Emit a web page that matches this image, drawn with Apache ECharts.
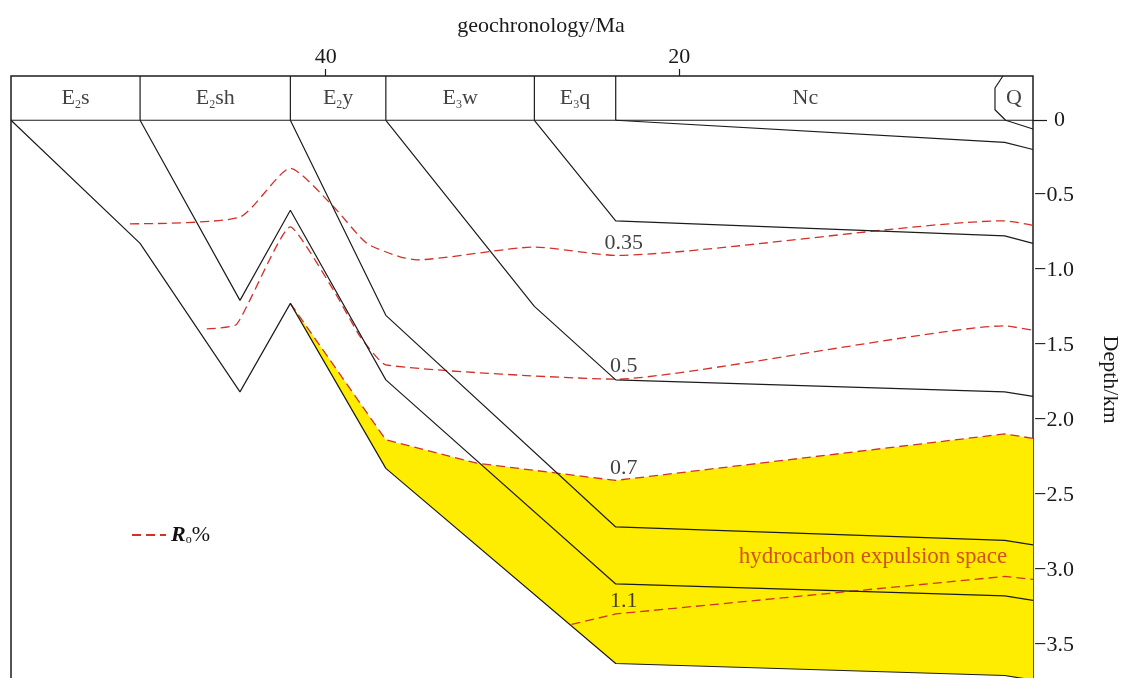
<!DOCTYPE html>
<html>
<head>
<meta charset="utf-8">
<script src="https://cdn.jsdelivr.net/npm/echarts@6/dist/echarts.min.js"></script>
<style>
  html, body { margin: 0; padding: 0; background: #ffffff; }
  #chart { width: 1122px; height: 678px; }
</style>
</head>
<body>
<div id="chart"></div>
<script>
// ---- stratigraphic stages shown in the header strip (ages in Ma) ----
const stageNames  = ['E2s', 'E2sh', 'E2y', 'E3w', 'E3q', 'Nc', 'Q'];
const stageBounds = [57.8, 50.5, 42.0, 36.6, 28.2, 23.6, 2.15, 0];

// ---- axis ticks ----
const ageTicks   = [40, 20];
const depthTicks = [0, -0.5, -1.0, -1.5, -2.0, -2.5, -3.0, -3.5];

// ---- burial paths of horizon bases: [age Ma, depth km] ----
const burialE2s  = [[57.8, 0], [50.5, -0.82], [44.85, -1.81], [42.0, -1.22], [36.6, -2.32], [23.6, -3.62], [1.6, -3.70], [0, -3.73]];
const burialE2sh = [[50.5, 0], [44.85, -1.20], [42.0, -0.60], [36.6, -1.73], [23.6, -3.09], [1.6, -3.17], [0, -3.20]];
const burialE2y  = [[42.0, 0], [36.6, -1.30], [23.6, -2.71], [1.6, -2.80], [0, -2.83]];
const burialE3w  = [[36.6, 0], [28.2, -1.24], [23.6, -1.73], [1.6, -1.81], [0, -1.84]];
const burialE3q  = [[28.2, 0], [23.6, -0.67], [1.6, -0.77], [0, -0.82]];
const burialNc   = [[23.6, 0], [1.6, -0.147], [0, -0.195]];
const burialQ    = [[1.70, 0.295], [2.15, 0.215], [2.15, 0.07], [1.55, 0], [0, -0.058]];

// ---- vitrinite reflectance (Ro %) isolines ----
const roLevels = [0.35, 0.5, 0.7, 1.1];
const ro035 = [[51.07, -0.69], [44.85, -0.645], [42.0, -0.32], [39.57, -0.575], [37.68, -0.82], [35.8, -0.91], [34.85, -0.93], [28.2, -0.845], [23.6, -0.90], [1.6, -0.67], [0, -0.70]];
const ro05  = [[46.73, -1.39], [45.04, -1.36], [42.0, -0.71], [39.57, -1.13], [38.06, -1.44], [36.6, -1.63], [23.6, -1.725], [1.6, -1.37], [0, -1.40]];
const ro07  = [[42.0, -1.22], [36.6, -2.13], [31.46, -2.285], [23.6, -2.40], [1.6, -2.09], [0, -2.12]];
const ro11  = [[26.1, -3.36], [23.6, -3.29], [1.6, -3.04], [0, -3.06]];

const HEADER_TOP = 0.295;   // top of the stage strip, in depth-axis units
const LABEL_AGE  = 23.6;    // isoline labels sit at the Neogene base

const FONT = '"Liberation Serif", "Times New Roman", serif';
const INK  = '#1c1c1c';
const RED  = '#d3302a';

const chart = echarts.init(document.getElementById('chart'), null, { renderer: 'canvas' });

function blackLine(data) {
  return {
    type: 'line', data, symbol: 'none', silent: true, animation: false, z: 4,
    lineStyle: { color: INK, width: 1.2 }
  };
}

function roLine(data, smooth) {
  return {
    type: 'line', name: 'Ro%', data, symbol: 'none', silent: true, animation: false,
    smooth, z: 3,
    itemStyle: { color: RED },
    lineStyle: { color: RED, width: 1.3, type: [9, 5] }
  };
}

// label positions taken from each isoline at the Neogene base
const roSets = [ro035, ro05, ro07, ro11];
const roLabelData = roSets.map((set, i) => {
  const p = set.find(q => q[0] === LABEL_AGE);
  return { value: [p[0], p[1]], name: String(roLevels[i]) };
});

// stage label anchors: middle of each stage, middle of header strip
const stageLabelData = stageNames.map((n, i) => ({
  value: [(stageBounds[i] + stageBounds[i + 1]) / 2, HEADER_TOP / 2],
  name: n
}));

// yellow zone: between Ro 0.7 isoline and the deepest horizon
const fillUpper = ro07;
const fillLower = burialE2s.filter(p => p[0] <= 42.0).slice().reverse();

const separators = [];
for (let i = 1; i <= 5; i++) {
  separators.push(blackLine([[stageBounds[i], 0], [stageBounds[i], HEADER_TOP]]));
}

function stageRich(name) {
  const m = name.match(/^([A-Z])(\d)(.*)$/);
  if (m) return '{n|' + m[1] + '}{s|' + m[2] + '}{n|' + m[3] + '}';
  return '{n|' + name + '}';
}

const option = {
  backgroundColor: '#ffffff',
  animation: false,
  textStyle: { fontFamily: FONT },
  grid: {
    left: 11, right: 89, top: 76, bottom: -5,
    outerBoundsMode: 'none', containLabel: false,
    show: true, borderColor: INK, borderWidth: 1.5, backgroundColor: 'transparent'
  },
  legend: {
    data: ['Ro%'],
    left: 126, top: 519,
    itemWidth: 34, itemHeight: 14, itemGap: 4,
    selectedMode: false,
    itemStyle: { opacity: 0 },
    formatter: () => '{r|R}{o|o}{p|%}',
    textStyle: {
      rich: {
        r: { fontFamily: FONT, fontSize: 22, fontStyle: 'italic', fontWeight: 'bold', color: '#111' },
        o: { fontFamily: FONT, fontSize: 12, color: '#111', verticalAlign: 'bottom' },
        p: { fontFamily: FONT, fontSize: 22, color: '#111' }
      }
    }
  },
  xAxis: {
    type: 'value', position: 'top', inverse: true, min: 0, max: 57.8,
    name: 'geochronology/Ma', nameLocation: 'middle', nameGap: 39,
    nameTextStyle: { fontFamily: FONT, fontSize: 22, color: '#1a1a1a', padding: [0, 0, 0, 38] },
    axisLine: { show: false, onZero: false },
    splitLine: { show: false },
    axisTick: { show: true, inside: false, length: 7, customValues: ageTicks, lineStyle: { color: INK, width: 1.2 } },
    axisLabel: { customValues: ageTicks, fontFamily: FONT, fontSize: 22, color: '#1a1a1a', margin: 8 }
  },
  yAxis: {
    type: 'value', position: 'right', min: -3.75, max: HEADER_TOP,
    name: 'Depth/km', nameLocation: 'middle', nameRotate: -90, nameGap: 66,
    nameTextStyle: { fontFamily: FONT, fontSize: 22, color: '#1a1a1a' },
    axisLine: { show: false, onZero: false },
    splitLine: { show: false },
    axisTick: { show: true, inside: false, length: 14, customValues: [0], lineStyle: { color: INK, width: 1.2 } },
    axisLabel: {
      customValues: depthTicks, margin: 1, fontFamily: FONT, fontSize: 22, color: '#1a1a1a',
      formatter: v => v === 0 ? '{z|0}' : '\u2212' + Math.abs(v).toFixed(1),
      rich: { z: { fontFamily: FONT, fontSize: 22, color: '#1a1a1a', padding: [0, 0, 0, 20] } }
    }
  },
  series: [
    {
      type: 'custom', silent: true, animation: false, z: 1, clip: true,
      data: [fillUpper[0]],
      encode: { x: 0, y: 1 },
      renderItem: (params, api) => {
        const pts = fillUpper.concat(fillLower).map(p => api.coord(p));
        return { type: 'polygon', shape: { points: pts }, style: { fill: '#ffed00' } };
      }
    },
    roLine(ro035, 0.2),
    roLine(ro05, 0.15),
    roLine(ro07, false),
    roLine(ro11, false),
    blackLine(burialE2s),
    blackLine(burialE2sh),
    blackLine(burialE2y),
    blackLine(burialE3w),
    blackLine(burialE3q),
    blackLine(burialNc),
    blackLine(burialQ),
    blackLine([[stageBounds[0], 0], [0, 0]]),
    ...separators,
    {
      type: 'scatter', silent: true, animation: false, z: 6,
      symbol: 'circle', symbolSize: 1, itemStyle: { color: 'transparent' },
      data: stageLabelData,
      label: {
        show: true, position: 'inside',
        formatter: p => stageRich(p.name),
        rich: {
          n: { fontFamily: FONT, fontSize: 22, color: '#111', lineHeight: 26 },
          s: { fontFamily: FONT, fontSize: 12, color: '#111', verticalAlign: 'bottom', lineHeight: 24 }
        }
      }
    },
    {
      type: 'scatter', silent: true, animation: false, z: 6,
      symbol: 'circle', symbolSize: 1, itemStyle: { color: 'transparent' },
      data: roLabelData,
      label: {
        show: true, position: 'top', distance: 1, offset: [8, 0],
        formatter: p => p.name,
        fontFamily: FONT, fontSize: 22, color: '#111'
      }
    },
    {
      type: 'scatter', silent: true, animation: false, z: 6,
      symbol: 'circle', symbolSize: 1, itemStyle: { color: 'transparent' },
      data: [[9.05, -2.91]],
      label: {
        show: true, position: 'inside',
        formatter: 'hydrocarbon expulsion space',
        fontFamily: FONT, fontSize: 23, color: '#c8281c'
      }
    }
  ]
};

chart.setOption(option);
</script>
</body>
</html>
